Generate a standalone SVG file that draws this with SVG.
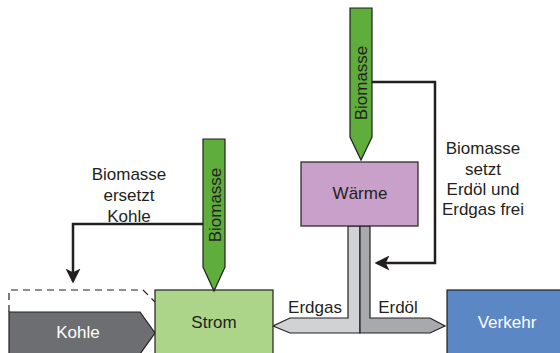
<svg xmlns="http://www.w3.org/2000/svg" width="560" height="353" viewBox="0 0 560 353">
<defs>
<style>
text{font-family:"Liberation Sans",Arial,sans-serif;font-size:17px;fill:#231f20}
.w{fill:#ffffff}
.box{stroke:#231f20;stroke-width:1.2}
.bio{fill:#5fae3c;stroke:#231f20;stroke-width:1.2}
.conn{fill:none;stroke:#231f20;stroke-width:2.5}
</style>
<marker id="ah" viewBox="0 0 12 12" refX="10" refY="6" markerWidth="6" markerHeight="6" orient="auto" markerUnits="strokeWidth">
<path d="M0,0 L12,6 L0,12 L3,6 Z" fill="#231f20"/>
</marker>
</defs>
<rect width="560" height="353" fill="#ffffff"/>
<g id="connectors">
<polyline class="conn" points="203,224 73,224 73,281" marker-end="url(#ah)"/>
<polyline class="conn" points="372,82 435,82 435,263 377,263" marker-end="url(#ah)"/>
<path d="M9,312 L9,290 L143,290 L155,302" fill="none" stroke="#231f20" stroke-width="1.2" stroke-dasharray="7,5"/>
</g>
<g id="pipes">
<polygon points="348,226 360,226 360,333 290,333 273,326 290,318 348,318" fill="#d1d2d4" stroke="#231f20" stroke-width="1.2"/>
<polygon points="360,226 370,226 370,318 430,318 445,326 430,333 360,333" fill="#a7a9ac" stroke="#231f20" stroke-width="1.2"/>
<text x="315" y="313" text-anchor="middle">Erdgas</text>
<text x="398" y="313" text-anchor="middle">Erdöl</text>
</g>
<g id="kohle">
<polygon class="box" points="9,312 140,312 155,333 140,354 9,354" fill="#6d6e71"/>
<text class="w" x="78" y="338" text-anchor="middle">Kohle</text>
</g>
<g id="strom">
<rect class="box" x="155" y="290" width="118" height="65" fill="#acd58a"/>
<text x="214" y="328" text-anchor="middle">Strom</text>
</g>
<g id="waerme">
<rect class="box" x="301" y="162" width="117" height="64" fill="#c8a0c9"/>
<text x="360" y="199" text-anchor="middle">Wärme</text>
</g>
<g id="verkehr">
<rect class="box" x="447" y="290" width="115" height="65" fill="#5b87c5"/>
<text class="w" x="507" y="328" text-anchor="middle">Verkehr</text>
</g>
<g id="biomasse-strom">
<polygon class="bio" points="203,139 225,139 225,267 214,291 203,267"/>
<text transform="translate(221,205) rotate(-90)" text-anchor="middle">Biomasse</text>
</g>
<g id="biomasse-waerme">
<polygon class="bio" points="350,8 372,8 372,137 361,160 350,137"/>
<text transform="translate(367,83) rotate(-90)" text-anchor="middle">Biomasse</text>
</g>
<g id="label-kohle">
<text x="129" y="180" text-anchor="middle">Biomasse</text>
<text x="129" y="201" text-anchor="middle">ersetzt</text>
<text x="129" y="222" text-anchor="middle">Kohle</text>
</g>
<g id="label-erdoel">
<text x="483" y="154" text-anchor="middle">Biomasse</text>
<text x="483" y="175" text-anchor="middle">setzt</text>
<text x="483" y="195" text-anchor="middle">Erdöl und</text>
<text x="483" y="215" text-anchor="middle">Erdgas frei</text>
</g>
</svg>
